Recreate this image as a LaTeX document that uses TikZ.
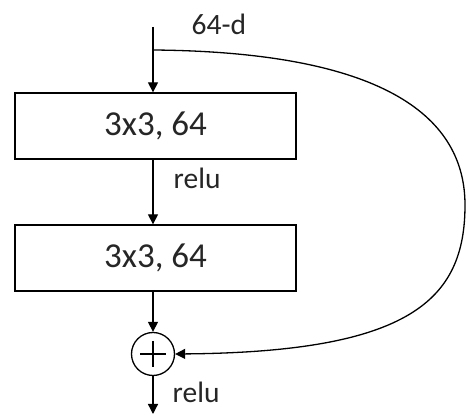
\documentclass[tikz,border=0pt]{standalone}
\usepackage{fontspec}
\setmainfont{Carlito}
\usetikzlibrary{arrows.meta}
\begin{document}
\begin{tikzpicture}[x=1pt,y=-1pt,
  line width=1.3pt,
  arr/.style={-{Triangle[length=10pt,width=10pt]}},
  layer/.style={draw, line width=1.3pt, minimum width=281pt, minimum height=66pt, inner sep=0pt,
    font=\fontsize{35}{38}\selectfont, text=black!85},
  lbl/.style={font=\fontsize{29.5}{32}\selectfont, text=black!85, inner sep=0pt, anchor=west},
  sumnode/.style={draw, circle, line width=1.3pt, minimum size=43pt, inner sep=0pt}]
\useasboundingbox (0,0) rectangle (467,419);
\coordinate (top) at (153,27);
\coordinate (split) at (153,50);
\node[layer] (b1) at (155.5,126) {3x3, 64};
\node[layer] (b2) at (155.5,258) {3x3, 64};
\node[sumnode] (sum) at (153,354) {};
\draw[line width=1.2pt] ([yshift=13pt]sum.center) -- ([yshift=-13pt]sum.center)
  ([xshift=-13pt]sum.center) -- ([xshift=13pt]sum.center);
\coordinate (out) at (153,414);
\node[lbl] (d) at (191,24) {64-d};
\node[lbl] (r1) at (173,178) {relu};
\node[lbl] (r2) at (172,392) {relu};
\draw[arr] (top) -- (b1.north -| top);
\draw[arr] (b1.south -| top) -- (b2.north -| top);
\draw[arr] (b2.south -| top) -- (sum.north);
\draw[arr] (sum.south) -- (out);
\draw[arr] (split) .. controls (390,52) and (465,120) .. (465,205)
  .. controls (465,300) and (410,352) .. (sum.east);
\end{tikzpicture}
\end{document}
